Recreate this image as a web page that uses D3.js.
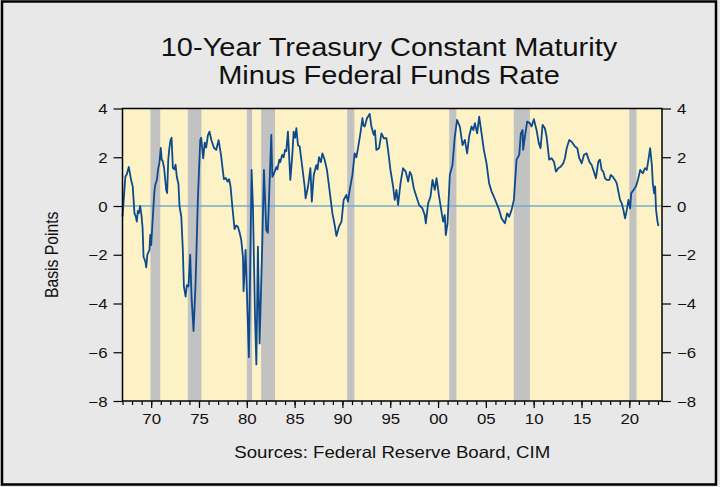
<!DOCTYPE html>
<html>
<head>
  <meta charset="utf-8">
  <title>10-Year Treasury Constant Maturity Minus Federal Funds Rate</title>
  <style>
    body { margin: 0; background: #e8e8e8; }
    text { font-family: "Liberation Sans", Arial, sans-serif; fill: #111; }
  </style>
</head>
<body>
  <script src="https://cdn.jsdelivr.net/npm/d3@7/dist/d3.min.js"></script>
  <script>
    // readings of the spread (decimal year, percentage points)
    var dates = [
      1967.0, 1967.2, 1967.3, 1967.45, 1967.55, 1967.66, 1967.75, 1967.9, 1968.07, 1968.25, 1968.4,
      1968.5, 1968.6, 1968.7, 1968.85, 1969.0, 1969.1, 1969.2, 1969.4, 1969.48, 1969.6, 1969.82, 1969.9,
      1970.0, 1970.24, 1970.35, 1970.45, 1970.6, 1970.72, 1970.87, 1971.0, 1971.1, 1971.2, 1971.35, 1971.57,
      1971.67, 1971.78, 1971.88, 1972.02, 1972.13, 1972.27, 1972.44, 1972.55, 1972.68, 1972.85, 1972.96,
      1973.15, 1973.31, 1973.42, 1973.6, 1973.73, 1973.9, 1974.08, 1974.22, 1974.43, 1974.64, 1974.74,
      1974.88, 1975.13, 1975.23, 1975.44, 1975.6, 1975.75, 1975.93, 1976.1, 1976.3, 1976.55, 1976.8,
      1977.05, 1977.3, 1977.45, 1977.6, 1977.8, 1978.0, 1978.15, 1978.3, 1978.48, 1978.72, 1978.9, 1979.07, 1979.25,
      1979.42, 1979.6, 1979.66, 1979.87, 1980.0, 1980.22, 1980.5, 1980.64, 1980.85, 1981.0, 1981.16, 1981.34,
      1981.62, 1981.79, 1982.04, 1982.2, 1982.56, 1982.67, 1982.8, 1983.1, 1983.2, 1983.4, 1983.5, 1983.7,
      1983.85, 1984.0, 1984.13, 1984.3, 1984.55, 1984.76, 1984.9, 1985.05, 1985.18, 1985.35, 1985.53, 1985.8,
      1986.05, 1986.15, 1986.4, 1986.65, 1986.8, 1987.0, 1987.27, 1987.4, 1987.55, 1987.75, 1987.9, 1988.14,
      1988.38, 1988.67, 1988.95, 1989.19, 1989.37, 1989.64, 1989.9, 1990.13, 1990.41, 1990.58, 1990.76,
      1991.04, 1991.28, 1991.45, 1991.63, 1991.88, 1992.09, 1992.2, 1992.33, 1992.57, 1992.85, 1993.03,
      1993.27, 1993.4, 1993.55, 1993.83, 1994.08, 1994.32, 1994.6, 1994.77, 1995.02, 1995.3, 1995.47,
      1995.65, 1995.82, 1996.07, 1996.34, 1996.62, 1996.87, 1997.05, 1997.22, 1997.46, 1997.74, 1998.02,
      1998.37, 1998.61, 1998.72, 1998.96, 1999.21, 1999.42, 1999.66, 1999.84, 2000.11, 2000.36, 2000.53,
      2000.7, 2000.81, 2000.99, 2001.23, 2001.51, 2001.75, 2001.99, 2002.28, 2002.56, 2002.8, 2003.04,
      2003.25, 2003.5, 2003.7, 2003.85, 2004.09, 2004.3, 2004.55, 2004.79, 2005.07, 2005.34, 2005.6,
      2005.84, 2006.12, 2006.39, 2006.64, 2006.99, 2007.23, 2007.44, 2007.69, 2007.93, 2008.21, 2008.49,
      2008.66, 2008.84, 2008.9, 2009.08, 2009.32, 2009.6, 2009.78, 2010.02, 2010.3, 2010.54, 2010.72,
      2010.93, 2011.17, 2011.35, 2011.62, 2011.88, 2012.12, 2012.33, 2012.57, 2012.82, 2013.09, 2013.27,
      2013.45, 2013.72, 2013.97, 2014.32, 2014.56, 2014.77, 2015.02, 2015.26, 2015.54, 2015.82, 2016.06,
      2016.3, 2016.51, 2016.76, 2016.93, 2017.11, 2017.28, 2017.46, 2017.64, 2017.91, 2018.06, 2018.27,
      2018.51, 2018.69, 2018.86, 2019.03, 2019.21, 2019.38, 2019.56, 2019.74, 2019.91, 2020.09, 2020.2,
      2020.44, 2020.69, 2020.9, 2021.14, 2021.4, 2021.65, 2021.83, 2022.0, 2022.18, 2022.36, 2022.46,
      2022.6, 2022.7, 2022.8, 2022.95, 2023.05
    ];
    var spread = [
      -0.44, 0.66, 1.2, 1.3, 1.45, 1.6, 1.4, 1.07, 0.8, -0.29, -0.45,
      -0.64, -0.2, -0.3, 0.0, -0.44, -0.9, -2.08, -2.3, -2.52, -2.0, -1.8, -1.19,
      -1.6, 0.0, 0.66, 0.9, 1.07, 1.5, 1.8, 2.38, 1.9, 1.85, 1.56, 0.66,
      0.53, 1.85, 2.3, 2.7, 2.8, 1.56, 1.5, 1.7, 1.2, 0.9, 0.0,
      -0.44, -1.8, -3.3, -3.72, -3.25, -3.3, -2.0, -3.72, -5.13, -3.2, -1.8,
      0.27, 2.7, 2.8, 1.95, 2.6, 2.4, 2.9, 3.05, 2.7, 2.4, 2.3,
      2.7, 2.1, 1.6, 1.1, 1.15, 1.0, 1.1, 0.8, 0.0, -0.95, -0.8, -0.85, -1.1,
      -1.4, -2.1, -3.5, -1.8, -3.45, -6.2, 1.48, 0.0, -4.4, -6.5, -1.67, -5.64,
      -1.5, 1.48, -1.0, -1.1, 2.92, 1.2, 1.3, 1.6, 1.5, 1.9, 1.8, 2.1,
      2.0, 2.3, 2.25, 3.05, 1.07, 2.1, 3.05, 2.8, 3.19, 2.5, 2.44, 1.6,
      0.8, 0.31, 0.8, 1.55, 0.18, 1.27, 1.68, 1.5, 2.0, 1.8, 2.16, 1.9,
      1.48, 0.59, -0.3, -0.78, -1.23, -0.85, -0.64, 0.25, 0.45, 0.18, 0.66,
      1.27, 2.16, 2.0, 2.37, 2.98, 3.6, 3.3, 3.26, 3.6, 3.78, 3.26,
      2.92, 3.1, 2.3, 2.37, 2.98, 2.78, 2.78, 2.3, 1.48, 0.8, 0.25,
      0.66, 0.04, 0.93, 1.55, 1.41, 1.0, 1.4, 1.27, 0.73, 0.38, 0.04,
      -0.1, -0.37, -0.71, 0.11, 0.38, 1.07, 0.66, 1.14, 0.38, -0.23, -0.64,
      -0.37, -1.19, -0.71, 1.27, 1.68, 2.85, 3.53, 3.26, 2.5, 2.71, 2.16,
      2.85, 3.26, 3.12, 3.4, 2.98, 3.67, 2.98, 2.3, 1.75, 0.93, 0.59,
      0.38, 0.11, -0.16, -0.5, -0.71, -0.3, -0.44, -0.16, 0.25, 1.9, 2.1,
      2.98, 3.12, 2.3, 2.85, 3.46, 3.4, 3.26, 3.56, 3.12, 2.57, 2.37,
      3.33, 3.19, 2.85, 1.9, 1.96, 1.82, 1.41, 1.55, 1.61, 1.75, 1.96,
      2.37, 2.71, 2.64, 2.44, 2.37, 1.96, 1.75, 2.1, 2.16, 1.82, 1.68,
      1.41, 1.14, 1.82, 1.9, 1.48, 1.41, 1.14, 1.07, 1.07, 1.27, 1.2,
      1.07, 0.93, 0.59, 0.25, 0.11, -0.16, -0.51, -0.16, 0.25, -0.1, 0.52,
      0.66, 0.8, 1.07, 1.48, 1.34, 1.55, 1.48, 1.9, 2.37, 1.68, 0.93,
      0.52, 0.8, -0.16, -0.64, -0.82
    ];

    // recession bars
    var recStart = [1969.92, 1973.83, 1980.0, 1981.5, 1990.5, 2001.17, 2007.92, 2020.0];
    var recEnd   = [1970.95, 1975.25, 1980.55, 1982.95, 1991.25, 2001.92, 2009.6, 2020.75];

    // axis ticks
    var xMajor = [1970, 1975, 1980, 1985, 1990, 1995, 2000, 2005, 2010, 2015, 2020];
    var xLabels = ["70", "75", "80", "85", "90", "95", "00", "05", "10", "15", "20"];
    var yTicks = [-8, -6, -4, -2, 0, 2, 4];

    var width = 720, height = 487;
    var margin = {top: 108.5, right: 58, bottom: 86, left: 122.5};
    var plotW = width - margin.left - margin.right;
    var plotH = height - margin.top - margin.bottom;
    var stretch = 1.16;   // the original lettering is drawn a bit wide

    var svg = d3.select("body").append("svg")
      .attr("width", width)
      .attr("height", height);

    // outer frame
    svg.append("rect")
      .attr("x", 2).attr("y", 1.5)
      .attr("width", 714).attr("height", 483)
      .attr("fill", "#e8e8e8")
      .attr("stroke", "#000")
      .attr("stroke-width", 2.5);

    var x = d3.scaleLinear().domain([1967.0, 2023.42]).range([0, plotW]);
    var y = d3.scaleLinear().domain([-8, 4]).range([plotH, 0]);

    var g = svg.append("g")
      .attr("transform", "translate(" + margin.left + "," + margin.top + ")");

    g.append("rect")
      .attr("width", plotW).attr("height", plotH)
      .attr("fill", "#fdf2c6");

    g.selectAll(".rec")
      .data(recStart)
      .enter().append("rect")
      .attr("class", "rec")
      .attr("x", function (d) { return x(d); })
      .attr("y", 0)
      .attr("width", function (d, i) { return x(recEnd[i]) - x(d); })
      .attr("height", plotH)
      .attr("fill", "#c2c2c2");

    // zero line
    g.append("line")
      .attr("x1", 0).attr("x2", plotW)
      .attr("y1", y(0)).attr("y2", y(0))
      .attr("stroke", "#72aec9")
      .attr("stroke-width", 1.3);

    var line = d3.line()
      .x(function (d, i) { return x(dates[i]); })
      .y(function (d) { return y(d); });

    g.append("path")
      .datum(spread)
      .attr("d", line)
      .attr("fill", "none")
      .attr("stroke", "#0c4a8d")
      .attr("stroke-width", 1.8)
      .attr("stroke-linejoin", "round");

    // frame of plot
    g.append("rect")
      .attr("width", plotW).attr("height", plotH)
      .attr("fill", "none")
      .attr("stroke", "#000")
      .attr("stroke-width", 1.5);

    // axes
    var minorYears = d3.range(1967, 2024);
    var xMinor = d3.axisBottom(x).tickValues(minorYears).tickSize(4).tickFormat("");
    var xAxis = d3.axisBottom(x).tickValues(xMajor).tickSize(7).tickPadding(6)
      .tickFormat(function (d, i) { return xLabels[i]; });
    var yLeft = d3.axisLeft(y).tickValues(yTicks).tickSize(9).tickPadding(6).tickFormat(d3.format("d"));
    var yRight = d3.axisRight(y).tickValues(yTicks).tickSize(9).tickPadding(6).tickFormat(d3.format("d"));

    g.append("g").attr("transform", "translate(0," + plotH + ")").call(xMinor);
    g.append("g").attr("class", "xaxis").attr("transform", "translate(0," + plotH + ")").call(xAxis);
    g.append("g").attr("class", "yaxis").call(yLeft);
    g.append("g").attr("class", "yaxis").attr("transform", "translate(" + plotW + ",0)").call(yRight);

    g.selectAll(".domain").remove();
    g.selectAll(".tick line").attr("stroke", "#000").attr("stroke-width", 1.2);
    g.selectAll(".tick text")
      .style("font-family", "'Liberation Sans', Arial, sans-serif")
      .style("font-size", "14.5px")
      .attr("fill", "#111")
      .attr("x", function () { return +d3.select(this).attr("x") / stretch; })
      .attr("transform", "scale(" + stretch + ",1)");
    g.selectAll(".yaxis .tick text").attr("dy", "0.36em");

    // titles
    svg.append("text")
      .attr("transform", "translate(389,56) scale(" + stretch + ",1)")
      .attr("text-anchor", "middle")
      .style("font-size", "25px")
      .text("10-Year Treasury Constant Maturity");
    svg.append("text")
      .attr("transform", "translate(389,84) scale(" + stretch + ",1)")
      .attr("text-anchor", "middle")
      .style("font-size", "25px")
      .text("Minus Federal Funds Rate");

    svg.append("text")
      .attr("transform", "translate(58," + (margin.top + plotH / 2) + ") rotate(-90) scale(1," + stretch + ")")
      .attr("text-anchor", "middle")
      .style("font-size", "15.7px")
      .text("Basis Points");

    svg.append("text")
      .attr("transform", "translate(" + (margin.left + plotW / 2) + ",458) scale(1.13,1)")
      .attr("text-anchor", "middle")
      .style("font-size", "16.5px")
      .text("Sources: Federal Reserve Board, CIM");
  </script>
</body>
</html>
